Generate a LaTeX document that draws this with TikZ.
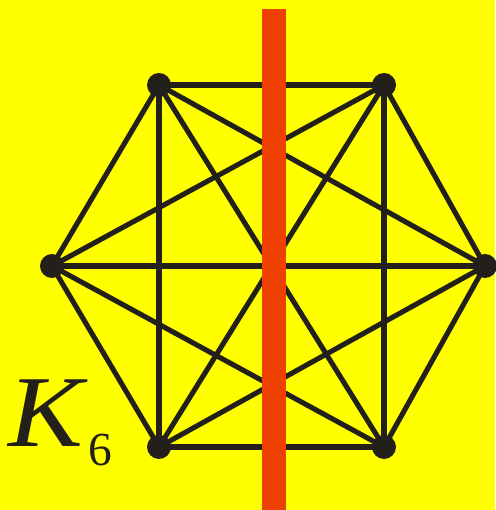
\documentclass[tikz,border=0pt]{standalone}
\usepackage{fontspec}
\setmainfont{Liberation Serif}
\usetikzlibrary{positioning}
\definecolor{bgyellow}{RGB}{255,255,0}
\definecolor{barred}{RGB}{238,64,0}
\definecolor{ink}{RGB}{35,31,26}
\tikzset{
  vertex/.style={circle, fill=ink, inner sep=0pt, minimum size=0.48cm},
  edge/.style={draw=ink, line width=2.9pt},
  cut/.style={fill=barred}
}

\begin{document}
\begin{tikzpicture}[x=0.02cm, y=0.02cm]
  \fill[bgyellow] (0,0) rectangle (495,510);
  \useasboundingbox (0,0) rectangle (495,510);
  \node[vertex] (v1) at (159,425) {};
  \node[vertex] (v2) at (384,425) {};
  \node[vertex] (v3) at (52,244) {};
  \node[vertex] (v4) at (485,244) {};
  \node[vertex] (v5) at (159,63) {};
  \node[vertex] (v6) at (384,63) {};
  \foreach \a/\b in {v1/v2,v1/v3,v1/v4,v1/v5,v1/v6,v2/v3,v2/v4,v2/v5,v2/v6,
                     v3/v4,v3/v5,v3/v6,v4/v5,v4/v6,v5/v6}
    \draw[edge] (\a.center) -- (\b.center);
  % the cut
  \fill[cut] (262,0) rectangle (286,501);
  \node[anchor=base west, inner sep=0pt, text=ink, xscale=1.1, font=\fontsize{58}{60}\selectfont\itshape] (kname) at (8,63) {K};
  \node[anchor=base west, inner sep=0pt, text=ink, font=\fontsize{27}{30}\selectfont] (kidx) at (88,44) {6};
\end{tikzpicture}
\end{document}
